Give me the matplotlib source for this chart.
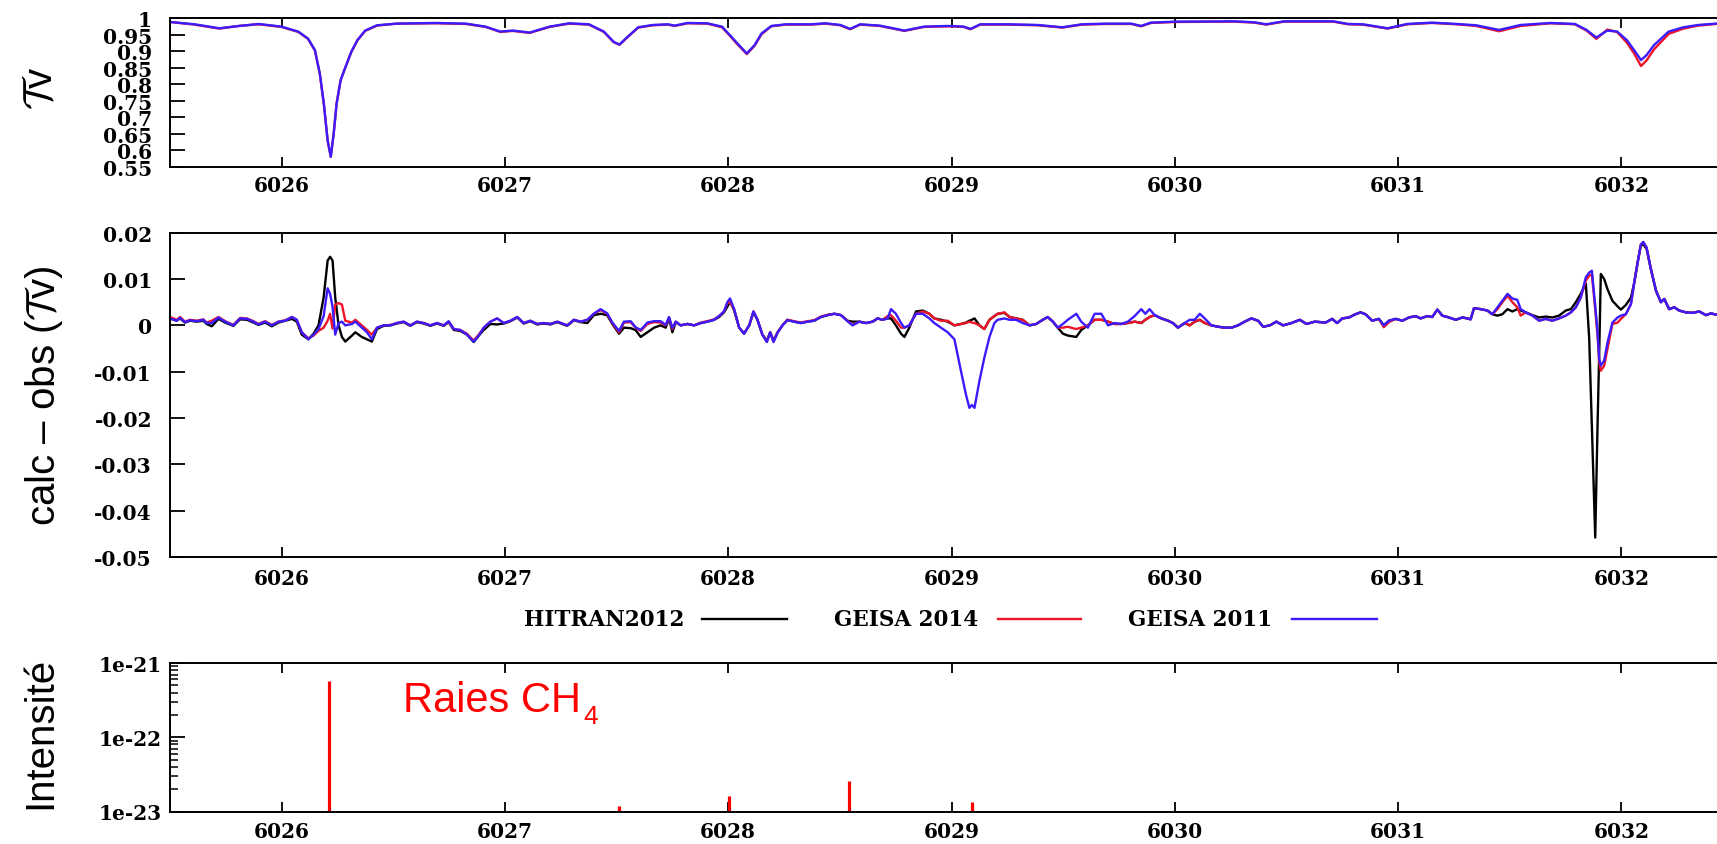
import matplotlib
matplotlib.use("Agg")
import matplotlib.pyplot as plt
from matplotlib.lines import Line2D
from matplotlib.ticker import FixedLocator, LogLocator, NullFormatter

# ---------------- data ----------------
# transmission (top panel)
wn_tr = [6025.500, 6025.610, 6025.721, 6025.809, 6025.897, 6025.999, 6026.074, 6026.118, 6026.149, 6026.171,
         6026.189, 6026.206, 6026.220, 6026.233, 6026.246, 6026.264, 6026.286, 6026.312, 6026.339, 6026.374,
         6026.427, 6026.515, 6026.692, 6026.825, 6026.913, 6026.979, 6027.036, 6027.111, 6027.200, 6027.288,
         6027.376, 6027.443, 6027.487, 6027.513, 6027.549, 6027.597, 6027.663, 6027.730, 6027.760, 6027.818,
         6027.906, 6027.972, 6028.008, 6028.039, 6028.083, 6028.118, 6028.149, 6028.193, 6028.259, 6028.370,
         6028.436, 6028.502, 6028.546, 6028.591, 6028.679, 6028.789, 6028.877, 6028.988, 6029.054, 6029.085,
         6029.129, 6029.253, 6029.385, 6029.496, 6029.584, 6029.694, 6029.805, 6029.849, 6029.893, 6030.003,
         6030.268, 6030.357, 6030.409, 6030.489, 6030.710, 6030.776, 6030.842, 6030.953, 6031.041, 6031.151,
         6031.262, 6031.350, 6031.452, 6031.549, 6031.681, 6031.792, 6031.844, 6031.888, 6031.937, 6031.981,
         6032.025, 6032.057, 6032.088, 6032.113, 6032.146, 6032.212, 6032.278, 6032.344, 6032.423, 6032.500]
tr_geisa2011 = [0.988, 0.981, 0.969, 0.976, 0.982, 0.974, 0.959, 0.938, 0.903, 0.832,
                0.741, 0.630, 0.581, 0.650, 0.741, 0.812, 0.852, 0.898, 0.933, 0.962,
                0.978, 0.983, 0.985, 0.983, 0.974, 0.959, 0.962, 0.956, 0.974, 0.984,
                0.981, 0.959, 0.928, 0.920, 0.943, 0.972, 0.979, 0.981, 0.977, 0.985,
                0.984, 0.974, 0.948, 0.925, 0.893, 0.918, 0.953, 0.976, 0.981, 0.981,
                0.984, 0.979, 0.967, 0.981, 0.977, 0.962, 0.974, 0.976, 0.974, 0.967,
                0.981, 0.981, 0.979, 0.972, 0.981, 0.983, 0.983, 0.976, 0.986, 0.989,
                0.990, 0.987, 0.981, 0.990, 0.990, 0.982, 0.981, 0.969, 0.982, 0.986,
                0.982, 0.978, 0.964, 0.979, 0.985, 0.982, 0.964, 0.941, 0.962, 0.959,
                0.933, 0.903, 0.873, 0.888, 0.918, 0.959, 0.972, 0.979, 0.983, 0.984]
tr_geisa2014 = [0.988, 0.980, 0.968, 0.976, 0.981, 0.973, 0.958, 0.937, 0.902, 0.831,
                0.740, 0.630, 0.581, 0.650, 0.741, 0.812, 0.852, 0.897, 0.932, 0.961,
                0.977, 0.983, 0.984, 0.982, 0.973, 0.958, 0.961, 0.955, 0.973, 0.983,
                0.980, 0.958, 0.927, 0.919, 0.942, 0.971, 0.978, 0.980, 0.976, 0.984,
                0.983, 0.972, 0.946, 0.922, 0.891, 0.916, 0.951, 0.975, 0.980, 0.980,
                0.983, 0.978, 0.966, 0.980, 0.976, 0.961, 0.973, 0.975, 0.973, 0.966,
                0.980, 0.980, 0.978, 0.971, 0.980, 0.982, 0.982, 0.975, 0.985, 0.988,
                0.989, 0.986, 0.980, 0.989, 0.989, 0.981, 0.980, 0.968, 0.981, 0.985,
                0.981, 0.976, 0.960, 0.976, 0.984, 0.981, 0.962, 0.937, 0.965, 0.958,
                0.925, 0.893, 0.855, 0.872, 0.905, 0.952, 0.968, 0.977, 0.982, 0.983]

# residuals calc - obs (middle panel)
wn_res = [6025.500, 6025.530, 6025.545, 6025.567, 6025.590, 6025.620, 6025.649, 6025.664, 6025.687, 6025.717,
          6025.747, 6025.784, 6025.814, 6025.844, 6025.874, 6025.896, 6025.926, 6025.956, 6025.986, 6026.016,
          6026.046, 6026.068, 6026.090, 6026.120, 6026.143, 6026.165, 6026.188, 6026.206, 6026.217, 6026.228,
          6026.240, 6026.255, 6026.270, 6026.285, 6026.315, 6026.330, 6026.359, 6026.382, 6026.404, 6026.427,
          6026.457, 6026.487, 6026.516, 6026.546, 6026.576, 6026.606, 6026.636, 6026.666, 6026.696, 6026.726,
          6026.748, 6026.771, 6026.800, 6026.830, 6026.860, 6026.883, 6026.905, 6026.935, 6026.965, 6026.995,
          6027.025, 6027.055, 6027.084, 6027.114, 6027.144, 6027.174, 6027.204, 6027.234, 6027.279, 6027.309,
          6027.339, 6027.369, 6027.398, 6027.428, 6027.458, 6027.481, 6027.511, 6027.533, 6027.563, 6027.585,
          6027.608, 6027.638, 6027.668, 6027.697, 6027.720, 6027.735, 6027.750, 6027.765, 6027.787, 6027.817,
          6027.847, 6027.877, 6027.907, 6027.937, 6027.959, 6027.981, 6027.996, 6028.008, 6028.026, 6028.049,
          6028.071, 6028.094, 6028.113, 6028.131, 6028.153, 6028.173, 6028.188, 6028.203, 6028.221, 6028.243,
          6028.265, 6028.295, 6028.325, 6028.355, 6028.385, 6028.415, 6028.445, 6028.475, 6028.505, 6028.534,
          6028.557, 6028.587, 6028.617, 6028.647, 6028.669, 6028.691, 6028.714, 6028.729, 6028.751, 6028.774,
          6028.789, 6028.811, 6028.841, 6028.871, 6028.901, 6028.923, 6028.953, 6028.983, 6029.013, 6029.043,
          6029.065, 6029.080, 6029.091, 6029.103, 6029.125, 6029.147, 6029.170, 6029.192, 6029.207, 6029.237,
          6029.260, 6029.289, 6029.319, 6029.349, 6029.379, 6029.409, 6029.431, 6029.454, 6029.476, 6029.499,
          6029.521, 6029.559, 6029.581, 6029.611, 6029.641, 6029.671, 6029.701, 6029.730, 6029.760, 6029.790,
          6029.820, 6029.850, 6029.868, 6029.887, 6029.910, 6029.940, 6029.970, 6029.992, 6030.014, 6030.044,
          6030.067, 6030.089, 6030.112, 6030.134, 6030.164, 6030.194, 6030.224, 6030.254, 6030.283, 6030.313,
          6030.343, 6030.373, 6030.396, 6030.426, 6030.455, 6030.485, 6030.523, 6030.560, 6030.590, 6030.627,
          6030.675, 6030.705, 6030.727, 6030.750, 6030.780, 6030.809, 6030.832, 6030.854, 6030.884, 6030.914,
          6030.936, 6030.959, 6030.989, 6031.019, 6031.049, 6031.078, 6031.101, 6031.131, 6031.153, 6031.176,
          6031.198, 6031.228, 6031.258, 6031.288, 6031.310, 6031.325, 6031.340, 6031.370, 6031.400, 6031.422,
          6031.445, 6031.467, 6031.490, 6031.512, 6031.534, 6031.549, 6031.572, 6031.602, 6031.632, 6031.661,
          6031.691, 6031.721, 6031.751, 6031.774, 6031.796, 6031.818, 6031.841, 6031.856, 6031.868, 6031.874,
          6031.883, 6031.893, 6031.901, 6031.908, 6031.923, 6031.938, 6031.960, 6031.983, 6031.998, 6032.020,
          6032.043, 6032.058, 6032.073, 6032.087, 6032.098, 6032.113, 6032.132, 6032.155, 6032.177, 6032.192,
          6032.214, 6032.237, 6032.259, 6032.289, 6032.319, 6032.349, 6032.379, 6032.401, 6032.424, 6032.460, 6032.500]

res_hitran2012 = [
    0.0015, 0.0010, 0.0015, 0.0006, 0.0010, 0.0008, 0.0010, 0.0003, -0.0002, 0.0014,
    0.0006, -0.0001, 0.0013, 0.0012, 0.0006, 0.0001, 0.0006, -0.0002, 0.0006, 0.0010,
    0.0014, 0.0008, -0.0020, -0.0030, -0.0018, 0.0000, 0.0060, 0.0140, 0.0148, 0.0140,
    0.0060, 0.0000, -0.0025, -0.0035, -0.0022, -0.0015, -0.0025, -0.0030, -0.0035, -0.0008,
    -0.0001, 0.0000, 0.0004, 0.0007, -0.0001, 0.0007, 0.0004, -0.0001, 0.0004, -0.0001,
    0.0007, -0.0010, -0.0012, -0.0020, -0.0036, -0.0022, -0.0010, 0.0003, 0.0002, 0.0004,
    0.0009, 0.0017, 0.0004, 0.0009, 0.0002, 0.0004, 0.0002, 0.0007, -0.0001, 0.0011,
    0.0007, 0.0005, 0.0022, 0.0025, 0.0022, 0.0003, -0.0018, -0.0005, -0.0006, -0.0010,
    -0.0025, -0.0015, -0.0005, 0.0000, -0.0005, 0.0015, -0.0015, 0.0007, 0.0000, 0.0003,
    0.0000, 0.0005, 0.0008, 0.0012, 0.0018, 0.0028, 0.0040, 0.0052, 0.0033, -0.0005,
    -0.0018, 0.0000, 0.0028, 0.0012, -0.0020, -0.0033, -0.0015, -0.0033, -0.0015, 0.0000,
    0.0012, 0.0008, 0.0005, 0.0008, 0.0010, 0.0018, 0.0022, 0.0025, 0.0022, 0.0010,
    0.0008, 0.0008, 0.0005, 0.0008, 0.0015, 0.0012, 0.0015, 0.0015, 0.0000, -0.0018,
    -0.0025, -0.0005, 0.0030, 0.0032, 0.0025, 0.0015, 0.0012, 0.0008, 0.0000, 0.0003,
    0.0006, 0.0010, 0.0012, 0.0015, 0.0000, -0.0008, 0.0012, 0.0020, 0.0025, 0.0027,
    0.0018, 0.0015, 0.0012, 0.0000, 0.0003, 0.0012, 0.0018, 0.0008, -0.0005, -0.0018,
    -0.0022, -0.0025, -0.0010, 0.0000, 0.0012, 0.0012, 0.0008, 0.0003, 0.0003, 0.0005,
    0.0008, 0.0005, 0.0012, 0.0018, 0.0022, 0.0015, 0.0010, 0.0005, -0.0005, 0.0005,
    0.0000, 0.0008, 0.0012, 0.0005, 0.0000, -0.0003, -0.0005, -0.0005, 0.0000, 0.0008,
    0.0015, 0.0010, -0.0003, 0.0000, 0.0008, 0.0000, 0.0005, 0.0012, 0.0003, 0.0008,
    0.0006, 0.0014, 0.0005, 0.0015, 0.0017, 0.0024, 0.0028, 0.0024, 0.0010, 0.0014,
    0.0000, 0.0010, 0.0014, 0.0010, 0.0017, 0.0020, 0.0015, 0.0020, 0.0018, 0.0034,
    0.0021, 0.0017, 0.0012, 0.0017, 0.0015, 0.0013, 0.0037, 0.0035, 0.0032, 0.0024,
    0.0021, 0.0024, 0.0035, 0.0030, 0.0035, 0.0032, 0.0028, 0.0022, 0.0017, 0.0019,
    0.0017, 0.0021, 0.0032, 0.0035, 0.0050, 0.0068, 0.0090, -0.0029, -0.0219, -0.0315,
    -0.0458, -0.0224, -0.0056, 0.0111, 0.0100, 0.0078, 0.0053, 0.0041, 0.0034, 0.0044,
    0.0060, 0.0093, 0.0136, 0.0172, 0.0175, 0.0165, 0.0122, 0.0075, 0.0050, 0.0057,
    0.0035, 0.0039, 0.0032, 0.0028, 0.0027, 0.0030, 0.0022, 0.0026, 0.0023, 0.0025, 0.0022]

res_geisa2014 = [
    0.0018, 0.0012, 0.0018, 0.0008, 0.0012, 0.0010, 0.0013, 0.0006, 0.0010, 0.0018,
    0.0009, 0.0001, 0.0016, 0.0015, 0.0009, 0.0003, 0.0009, 0.0001, 0.0008, 0.0011,
    0.0018, 0.0012, -0.0015, -0.0028, -0.0022, -0.0012, -0.0005, 0.0010, 0.0025, -0.0007,
    0.0045, 0.0048, 0.0045, 0.0010, 0.0006, 0.0012, 0.0000, -0.0010, -0.0020, -0.0005,
    0.0000, 0.0001, 0.0005, 0.0008, 0.0000, 0.0008, 0.0005, 0.0000, 0.0005, 0.0000,
    0.0008, -0.0008, -0.0010, -0.0018, -0.0033, -0.0020, -0.0005, 0.0008, 0.0015, 0.0005,
    0.0010, 0.0018, 0.0005, 0.0010, 0.0003, 0.0005, 0.0003, 0.0008, 0.0000, 0.0012,
    0.0008, 0.0012, 0.0025, 0.0033, 0.0025, 0.0005, -0.0015, 0.0006, 0.0007, -0.0005,
    -0.0012, 0.0003, 0.0007, 0.0006, 0.0000, 0.0017, -0.0008, 0.0008, 0.0000, 0.0003,
    0.0000, 0.0006, 0.0009, 0.0013, 0.0020, 0.0030, 0.0048, 0.0050, 0.0035, -0.0005,
    -0.0017, 0.0000, 0.0030, 0.0012, -0.0020, -0.0035, -0.0015, -0.0035, -0.0015, 0.0000,
    0.0012, 0.0009, 0.0006, 0.0009, 0.0011, 0.0019, 0.0023, 0.0025, 0.0022, 0.0010,
    0.0001, 0.0008, 0.0005, 0.0008, 0.0015, 0.0012, 0.0020, 0.0022, 0.0010, -0.0005,
    -0.0005, 0.0000, 0.0025, 0.0030, 0.0025, 0.0015, 0.0010, 0.0010, 0.0000, 0.0003,
    0.0005, 0.0008, 0.0006, 0.0005, 0.0000, -0.0008, 0.0012, 0.0020, 0.0025, 0.0028,
    0.0018, 0.0015, 0.0012, 0.0000, 0.0003, 0.0012, 0.0018, 0.0008, -0.0005, -0.0005,
    -0.0003, -0.0008, -0.0005, 0.0000, 0.0012, 0.0012, 0.0008, 0.0003, 0.0003, 0.0005,
    0.0008, 0.0005, 0.0012, 0.0018, 0.0022, 0.0015, 0.0010, 0.0005, -0.0005, 0.0005,
    0.0000, 0.0008, 0.0012, 0.0005, 0.0000, -0.0003, -0.0005, -0.0005, 0.0000, 0.0008,
    0.0015, 0.0010, -0.0003, 0.0000, 0.0008, 0.0000, 0.0005, 0.0012, 0.0003, 0.0008,
    0.0006, 0.0014, 0.0005, 0.0015, 0.0017, 0.0024, 0.0028, 0.0024, 0.0010, 0.0014,
    -0.0004, 0.0007, 0.0014, 0.0010, 0.0017, 0.0020, 0.0015, 0.0020, 0.0018, 0.0034,
    0.0021, 0.0017, 0.0012, 0.0017, 0.0015, 0.0013, 0.0037, 0.0035, 0.0032, 0.0024,
    0.0035, 0.0050, 0.0064, 0.0050, 0.0039, 0.0021, 0.0028, 0.0021, 0.0010, 0.0014,
    0.0010, 0.0015, 0.0021, 0.0028, 0.0039, 0.0060, 0.0097, 0.0107, 0.0110, 0.0080,
    0.0034, -0.0020, -0.0080, -0.0098, -0.0087, -0.0051, 0.0003, 0.0006, 0.0014, 0.0024,
    0.0046, 0.0093, 0.0136, 0.0174, 0.0180, 0.0168, 0.0122, 0.0075, 0.0050, 0.0057,
    0.0035, 0.0039, 0.0032, 0.0028, 0.0027, 0.0030, 0.0022, 0.0026, 0.0023, 0.0025, 0.0022]

res_geisa2011 = [
    0.0015, 0.0010, 0.0016, 0.0007, 0.0011, 0.0009, 0.0012, 0.0005, 0.0005, 0.0017,
    0.0008, 0.0000, 0.0015, 0.0014, 0.0008, 0.0002, 0.0008, 0.0000, 0.0008, 0.0010,
    0.0018, 0.0012, -0.0015, -0.0030, -0.0020, -0.0008, 0.0020, 0.0080, 0.0068, 0.0040,
    -0.0020, 0.0005, 0.0008, 0.0000, 0.0003, 0.0008, -0.0005, -0.0015, -0.0030, -0.0005,
    0.0000, 0.0000, 0.0005, 0.0008, 0.0000, 0.0008, 0.0005, 0.0000, 0.0005, 0.0000,
    0.0009, -0.0008, -0.0010, -0.0020, -0.0035, -0.0022, -0.0005, 0.0008, 0.0015, 0.0005,
    0.0010, 0.0018, 0.0005, 0.0010, 0.0003, 0.0005, 0.0003, 0.0008, 0.0000, 0.0012,
    0.0008, 0.0012, 0.0025, 0.0035, 0.0026, 0.0006, -0.0012, 0.0008, 0.0009, -0.0004,
    -0.0010, 0.0006, 0.0009, 0.0009, 0.0001, 0.0018, -0.0006, 0.0008, 0.0000, 0.0003,
    0.0000, 0.0005, 0.0008, 0.0012, 0.0020, 0.0030, 0.0050, 0.0058, 0.0036, -0.0005,
    -0.0018, 0.0000, 0.0030, 0.0012, -0.0020, -0.0036, -0.0015, -0.0036, -0.0016, 0.0000,
    0.0011, 0.0008, 0.0005, 0.0008, 0.0010, 0.0018, 0.0022, 0.0025, 0.0022, 0.0009,
    0.0000, 0.0008, 0.0005, 0.0008, 0.0015, 0.0012, 0.0015, 0.0035, 0.0025, 0.0005,
    -0.0005, 0.0000, 0.0025, 0.0025, 0.0015, 0.0005, -0.0005, -0.0015, -0.0030, -0.0100,
    -0.0150, -0.0178, -0.0172, -0.0178, -0.0120, -0.0070, -0.0025, 0.0005, 0.0012, 0.0015,
    0.0012, 0.0012, 0.0005, 0.0000, 0.0003, 0.0012, 0.0018, 0.0008, -0.0005, 0.0003,
    0.0012, 0.0025, 0.0008, -0.0005, 0.0025, 0.0025, 0.0000, 0.0005, 0.0003, 0.0008,
    0.0020, 0.0035, 0.0025, 0.0035, 0.0022, 0.0015, 0.0010, 0.0005, -0.0005, 0.0005,
    0.0012, 0.0012, 0.0025, 0.0015, 0.0000, -0.0003, -0.0005, -0.0005, 0.0000, 0.0008,
    0.0015, 0.0010, -0.0003, 0.0000, 0.0008, 0.0000, 0.0005, 0.0012, 0.0003, 0.0008,
    0.0006, 0.0014, 0.0005, 0.0015, 0.0017, 0.0024, 0.0028, 0.0024, 0.0010, 0.0014,
    0.0000, 0.0010, 0.0014, 0.0010, 0.0017, 0.0020, 0.0015, 0.0020, 0.0018, 0.0034,
    0.0021, 0.0017, 0.0012, 0.0017, 0.0015, 0.0013, 0.0037, 0.0035, 0.0032, 0.0024,
    0.0039, 0.0053, 0.0068, 0.0058, 0.0055, 0.0035, 0.0028, 0.0021, 0.0010, 0.0014,
    0.0010, 0.0015, 0.0021, 0.0028, 0.0039, 0.0060, 0.0104, 0.0114, 0.0118, 0.0088,
    0.0042, -0.0011, -0.0073, -0.0087, -0.0076, -0.0037, 0.0006, 0.0017, 0.0021, 0.0024,
    0.0046, 0.0093, 0.0136, 0.0174, 0.0180, 0.0168, 0.0122, 0.0075, 0.0050, 0.0057,
    0.0035, 0.0039, 0.0032, 0.0028, 0.0027, 0.0030, 0.0022, 0.0026, 0.0023, 0.0025, 0.0022]

# CH4 line intensities (bottom panel)
wn_lines = [6026.21, 6027.51, 6028.005, 6028.54, 6029.09]
int_lines = [5.7e-22, 1.19e-23, 1.62e-23, 2.6e-23, 1.35e-23]

x_ticks = [6026, 6027, 6028, 6029, 6030, 6031, 6032]
x_ticklabels = ["6026", "6027", "6028", "6029", "6030", "6031", "6032"]
top_yticks = [0.55, 0.6, 0.65, 0.7, 0.75, 0.8, 0.85, 0.9, 0.95, 1.0]
top_ylabels = ["0.55", "0.6", "0.65", "0.7", "0.75", "0.8", "0.85", "0.9", "0.95", "1"]
mid_yticks = [-0.05, -0.04, -0.03, -0.02, -0.01, 0.0, 0.01, 0.02]
mid_ylabels = ["-0.05", "-0.04", "-0.03", "-0.02", "-0.01", "0", "0.01", "0.02"]
bot_yticks = [1e-23, 1e-22, 1e-21]
bot_ylabels = ["1e-23", "1e-22", "1e-21"]
legend_names = ["HITRAN2012", "GEISA 2014", "GEISA 2011"]

for arr in (res_hitran2012, res_geisa2014, res_geisa2011):
    if len(arr) != len(wn_res):
        raise ValueError("length mismatch %d vs %d" % (len(arr), len(wn_res)))
for arr in (tr_geisa2011, tr_geisa2014):
    if len(arr) != len(wn_tr):
        raise ValueError("length mismatch tr %d vs %d" % (len(arr), len(wn_tr)))

# ---------------- style ----------------
plt.rcParams['mathtext.fontset'] = 'cm'
plt.rcParams['axes.unicode_minus'] = False
plt.rcParams['font.family'] = ['DejaVu Serif']
plt.rcParams['font.weight'] = 'bold'

C_BLACK = '#000000'
C_RED = '#f01428'
C_BLUE = '#3a1cff'
LW = 1.7
TICK_SIZE = 14.5

W, H = 1717, 845
fig = plt.figure(figsize=(W / 100, H / 100), dpi=100)


def fx(px):
    return px / W


def fy(py):
    return 1 - py / H


XMIN, XMAX = 6025.5, 6032.5
L, R = 170, 1733

ax_top = fig.add_axes([fx(L), fy(168), (R - L) / W, (168 - 19) / H])
ax_mid = fig.add_axes([fx(L), fy(558), (R - L) / W, (558 - 233.7) / H])
ax_bot = fig.add_axes([fx(L), fy(812.5), (R - L) / W, (812.5 - 664) / H])


def style(ax, xpad, ypad):
    ax.set_xlim(XMIN, XMAX)
    ax.set_xticks(x_ticks, labels=x_ticklabels)
    ax.tick_params(axis='x', which='major', direction='in', length=7, width=1.3,
                   top=True, bottom=True, pad=xpad, labelsize=TICK_SIZE)
    ax.tick_params(axis='y', which='major', direction='in', length=11, width=1.3,
                   left=True, right=True, pad=ypad, labelsize=TICK_SIZE)
    ax.tick_params(axis='x', which='minor', bottom=False, top=False)
    for s in ax.spines.values():
        s.set_linewidth(1.4)


# top panel
ax_top.plot(wn_tr, tr_geisa2014, color=C_RED, lw=LW)
ax_top.plot(wn_tr, tr_geisa2011, color=C_BLUE, lw=LW)
ax_top.set_ylim(0.55, 1.0)
ax_top.set_yticks(top_yticks, labels=top_ylabels)
style(ax_top, 6, 13)

# middle panel
ax_mid.plot(wn_res, res_hitran2012, color=C_BLACK, lw=LW)
ax_mid.plot(wn_res, res_geisa2014, color=C_RED, lw=LW)
ax_mid.plot(wn_res, res_geisa2011, color=C_BLUE, lw=LW)
ax_mid.set_ylim(-0.05, 0.02)
ax_mid.set_yticks(mid_yticks, labels=mid_ylabels)
style(ax_mid, 8, 13)

# bottom panel
ax_bot.set_yscale('log')
ax_bot.vlines(wn_lines, 1e-23, int_lines, color='#ff0000', lw=2.3)
ax_bot.set_ylim(1e-23, 1e-21)
ax_bot.yaxis.set_major_locator(FixedLocator(bot_yticks))
ax_bot.set_yticklabels(bot_ylabels)
ax_bot.yaxis.set_minor_locator(LogLocator(base=10, subs=[2, 3, 4, 5, 6, 7, 8, 9]))
ax_bot.yaxis.set_minor_formatter(NullFormatter())
style(ax_bot, 6.5, 6)
ax_bot.tick_params(axis='y', which='minor', direction='in', length=6, width=1.1, left=True, right=True)

# axis labels
lab = dict(family='Liberation Sans', weight='normal', size=29, rotation=90,
           ha='center', va='center')
fig.text(fx(40), fy(88), r'$\mathcal{T}$v', **lab)
fig.text(fx(44), fy(396), r'calc – obs ($\mathcal{T}$v)', **lab)
fig.text(fx(40), fy(733), 'Intensité', **lab)

raies = fig.text(fx(403), fy(712), 'Raies CH', color='#ff0000',
                 family='Liberation Sans', weight='normal', size=30, ha='left', va='baseline')
renderer = fig.canvas.get_renderer()
bb = raies.get_window_extent(renderer)
fig.text(bb.x1 / W + fx(2), fy(724), '4', color='#ff0000',
         family='Liberation Sans', weight='normal', size=19, ha='left', va='baseline')

# legend
leg_y = fy(620)
leg_text_right = [684, 978, 1272]
leg_line = [(702, 787), (998, 1081), (1292, 1377)]
for name, tr, (a, b), c in zip(legend_names, leg_text_right, leg_line, [C_BLACK, C_RED, C_BLUE]):
    fig.text(fx(tr), leg_y, name, ha='right', va='center', size=15.5, weight='bold')
    fig.add_artist(Line2D([fx(a), fx(b)], [leg_y, leg_y], transform=fig.transFigure,
                          color=c, lw=LW))

fig.savefig('out.png', dpi=100)
